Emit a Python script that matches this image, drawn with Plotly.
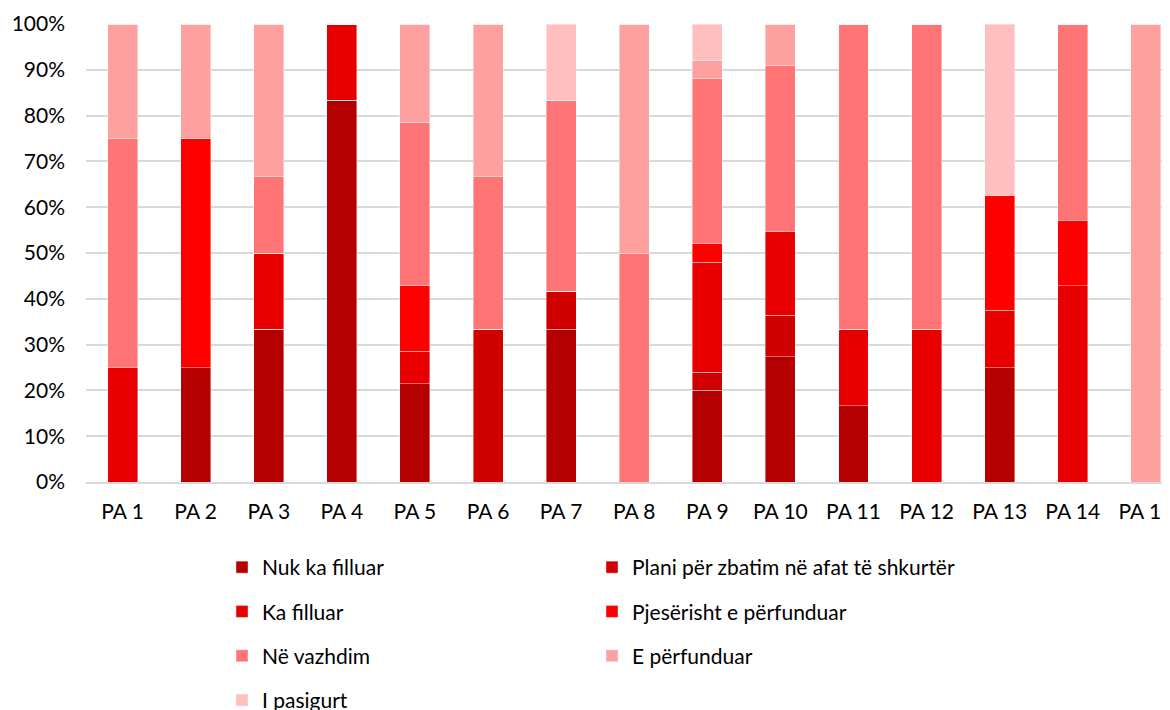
import plotly.graph_objects as go

categories = ["PA 1", "PA 2", "PA 3", "PA 4", "PA 5", "PA 6", "PA 7", "PA 8",
              "PA 9", "PA 10", "PA 11", "PA 12", "PA 13", "PA 14", "PA 15"]

series_names = ["Nuk ka filluar", "Plani për zbatim në afat të shkurtër", "Ka filluar",
                "Pjesërisht e përfunduar", "Në vazhdim", "E përfunduar", "I pasigurt"]

nuk_ka_filluar = [0, 25, 33.3, 83.3, 21.4, 0, 33.3, 0, 20, 27.3, 16.7, 0, 25, 0, 0]
plani_zbatim = [0, 0, 0, 0, 0, 33.3, 8.3, 0, 4, 9.1, 0, 0, 0, 0, 0]
ka_filluar = [25, 0, 16.7, 16.7, 7.1, 0, 0, 0, 24, 18.2, 16.7, 33.3, 12.5, 42.9, 0]
pjeserisht = [0, 50, 0, 0, 14.3, 0, 0, 0, 4, 0, 0, 0, 25, 14.3, 0]
ne_vazhdim = [50, 0, 16.7, 0, 35.7, 33.3, 41.7, 50, 36, 36.4, 66.6, 66.7, 0, 42.8, 0]
perfunduar = [25, 25, 33.3, 0, 21.5, 33.4, 0, 50, 4, 9.0, 0, 0, 0, 0, 100]
pasigurt = [0, 0, 0, 0, 0, 0, 16.7, 0, 8, 0, 0, 0, 37.5, 0, 0]

values = [nuk_ka_filluar, plani_zbatim, ka_filluar, pjeserisht, ne_vazhdim, perfunduar, pasigurt]
colors = ["#B40000", "#D00000", "#E80000", "#FF0000", "#FF7575", "#FFA0A0", "#FFBFBF"]
legend_ids = ["legend", "legend2", "legend", "legend2", "legend", "legend2", "legend"]

fig = go.Figure()
for i, (name, vals, col) in enumerate(zip(series_names, values, colors)):
    fig.add_trace(go.Bar(
        x=categories, y=[v / 100 for v in vals], name=name,
        marker=dict(color=col, line=dict(color="rgba(255,255,255,0.5)", width=0.8)),
        legend=legend_ids[i], legendgroup=f"g{i}",
    ))

# page body has an 8px margin; figure sized to fit the 1170x710 window
W, H = 1162, 702
ml, mr, mt, mb = 78, 0, 16, 228
ph = H - mt - mb

def py(pix):
    return (H - mb - pix) / ph

font_family = "Lato, 'Open Sans', sans-serif"
fs = 21
legend_common = dict(
    orientation="v", xanchor="left", yanchor="top", traceorder="grouped",
    tracegroupgap=14, font=dict(size=fs, color="#000000", family=font_family),
    bgcolor="rgba(0,0,0,0)", itemclick=False,
)

fig.update_layout(
    width=W, height=H,
    margin=dict(l=ml, r=mr, t=mt, b=mb, autoexpand=False),
    barmode="stack", bargap=0.59,
    plot_bgcolor="white", paper_bgcolor="white",
    font=dict(family=font_family, size=fs, color="#000000"),
    xaxis=dict(range=[-0.5, 14.33], showgrid=False, showline=True, linecolor="#D9D9D9",
               linewidth=1.5, ticks="", tickfont=dict(size=fs), ticklabelstandoff=10,
               automargin=False, fixedrange=True),
    yaxis=dict(range=[0, 1], dtick=0.1, tickformat=".0%", showgrid=True, gridcolor="#D9D9D9",
               gridwidth=1.5, zeroline=False, ticks="", ticklabelstandoff=20,
               tickfont=dict(size=fs), automargin=False, fixedrange=True),
    legend=dict(x=(214 - ml) / (W - ml), y=py(539), **legend_common),
    legend2=dict(x=(584 - ml) / (W - ml), y=py(539), **legend_common),
    showlegend=True,
)

fig.write_html("out.html")
